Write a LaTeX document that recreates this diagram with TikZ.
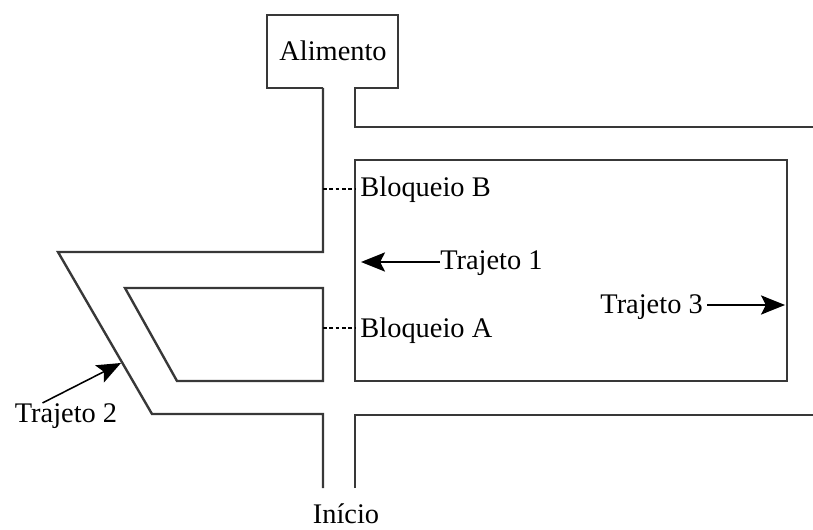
\documentclass[tikz,border=0pt]{standalone}
\usepackage{fontspec}
\setmainfont{Liberation Serif}
\usetikzlibrary{arrows.meta}

\tikzset{
    wall/.style = {line width=1.7pt, black!78, line join=miter},
    lbl/.style = {font=\fontsize{20.2}{23}\selectfont, inner sep=0pt},
    route/.style = {line width=1.1pt, -{Stealth[length=0.6cm, width=0.48cm, inset=0.12cm]}},
    block/.style = {line width=0.9pt, dash pattern=on 2.5pt off 2pt},
}

\begin{document}
\begin{tikzpicture}[x=0.025cm, y=-0.025cm]
    \useasboundingbox (0,0) rectangle (813,530);

    % walls of the maze
    \draw[wall] (323,88) -- (267,88) -- (267,15) -- (398,15) -- (398,88) -- (355,88) -- (355,127) -- (813,127);
    \draw[wall] (323,88) -- (323,252) -- (58,252) -- (152,414) -- (323,414) -- (323,488);
    \draw[wall] (323,288) -- (125,288) -- (177,381) -- (323,381) -- cycle;
    \draw[wall] (355,160) rectangle (787,381);
    \draw[wall] (355,488) -- (355,415) -- (813,415);

    \node[lbl, anchor=base] (alimento) at (333,61) {Alimento};
    \node[lbl, anchor=base] (inicio) at (346,523) {Início};

    % blockings
    \node[lbl, anchor=base west, inner xsep=0.13cm] (bloqB) at (355,197) {Bloqueio B};
    \node[lbl, anchor=base west, inner xsep=0.13cm] (bloqA) at (355,337) {Bloqueio A};
    \coordinate (bB) at (323,189);
    \coordinate (bA) at (323,328);
    \draw[block] (bB) -- (bB -| bloqB.west);
    \draw[block] (bA) -- (bA -| bloqA.west);

    % routes
    \node[lbl, anchor=base west] (traj1) at (440,270) {Trajeto 1};
    \node[lbl, anchor=base] (traj2) at (66,422) {Trajeto 2};
    \node[lbl, anchor=base east] (traj3) at (703,313) {Trajeto 3};
    \coordinate (t1) at (361,262);
    \coordinate (t2) at (121,363);
    \coordinate (t3) at (785,305);
    \draw[route] (t1 -| traj1.west) -- (t1);
    \draw[route] ([xshift=0.7cm]traj2.north west) -- (t2);
    \draw[route] ([xshift=0.1cm]t3 -| traj3.east) -- (t3);

\end{tikzpicture}
\end{document}
